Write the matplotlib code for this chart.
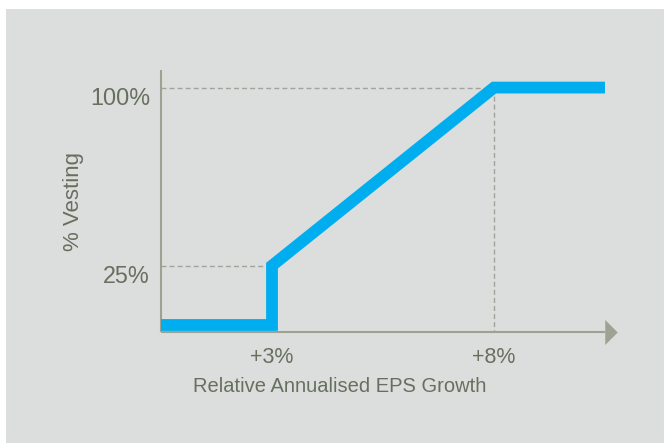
import matplotlib
matplotlib.use("Agg")
import matplotlib.pyplot as plt
from matplotlib.patches import Rectangle

# ---- data ----
growth = [0.5, 3, 3, 8, 10.5]          # relative annualised EPS growth (%)
vesting = [0, 0, 25, 100, 100]         # % vesting
x_ticks = [3, 8]
x_tick_labels = ["+3%", "+8%"]
y_levels = [25, 100]
y_level_labels = ["25%", "100%"]
x_label = "Relative Annualised EPS Growth"
y_label = "% Vesting"

# ---- style ----
BG = "#dcdedd"
BLUE = "#00aeef"
AXIS = "#9da293"
DASH = "#a0a49a"
TEXT = "#67705f"
FONT = "Liberation Sans"

fig = plt.figure(figsize=(6.64, 4.43), dpi=100, facecolor="white")
fig.patches.append(Rectangle((6 / 664, 0), 1 - 6 / 664, 1 - 9 / 443,
                             transform=fig.transFigure, facecolor=BG,
                             edgecolor="none", zorder=-10))

ax = fig.add_axes([161 / 664, 111 / 443, 456 / 664, 262 / 443])
ax.set_zorder(1)
ax.patch.set_alpha(0)
ax.axis("off")
x0, x1 = 0.5, 10.77
y0, y1 = -2.95, 107.4
ax.set_xlim(x0, x1)
ax.set_ylim(y0, y1)

# dashed guides
dash_kw = dict(color=DASH, lw=1.0, dashes=(3.6, 2.2), zorder=2)
ax.plot([x0, x_ticks[0]], [y_levels[0], y_levels[0]], **dash_kw)
ax.plot([x0, x_ticks[1]], [y_levels[1], y_levels[1]], **dash_kw)
ax.plot([x_ticks[1], x_ticks[1]], [y_levels[1], y0], **dash_kw)

# axes lines
ax.plot([x0, x0], [y0, y1], color=AXIS, lw=1.5, clip_on=False, zorder=3,
        solid_capstyle="butt")
ax.plot([x0, 10.49], [y0, y0], color=AXIS, lw=1.5, clip_on=False, zorder=3,
        solid_capstyle="butt")
arrow_marker = [(-0.5, -1), (-0.5, 1), (0.5, 0)]
ax.plot([10.625], [y0], marker=arrow_marker, markersize=18, color=AXIS,
        markeredgewidth=0, clip_on=False, zorder=3)

# vesting line
ax.plot(growth, vesting, color=BLUE, lw=8.5, solid_joinstyle="miter",
        solid_capstyle="butt", clip_on=False, zorder=4)

# y labels
for lv, lab in zip(y_levels, y_level_labels):
    ax.annotate(lab, xy=(x0, lv), xytext=(-7.9, -12.4),
                textcoords="offset points", ha="right", va="baseline",
                fontsize=16.8, color=TEXT, family=FONT)

# x tick labels
for xv, lab in zip(x_ticks, x_tick_labels):
    ax.annotate(lab, xy=(xv, y0), xytext=(0, -22.3),
                textcoords="offset points", ha="center", va="baseline",
                fontsize=15.5, color=TEXT, family=FONT)

# axis titles
ax.annotate(x_label, xy=((340 - 161) / 456, 0), xycoords="axes fraction",
            xytext=(0, -43.2), textcoords="offset points", ha="center",
            va="baseline", fontsize=14.5, color=TEXT, family=FONT)
ax.annotate(y_label, xy=(0, 0.5), xycoords="axes fraction",
            xytext=(-88 * 0.72, 0), textcoords="offset points", ha="center",
            va="center", rotation=90, fontsize=16, color=TEXT, family=FONT)

fig.savefig("out.png", dpi=100, facecolor="white")
